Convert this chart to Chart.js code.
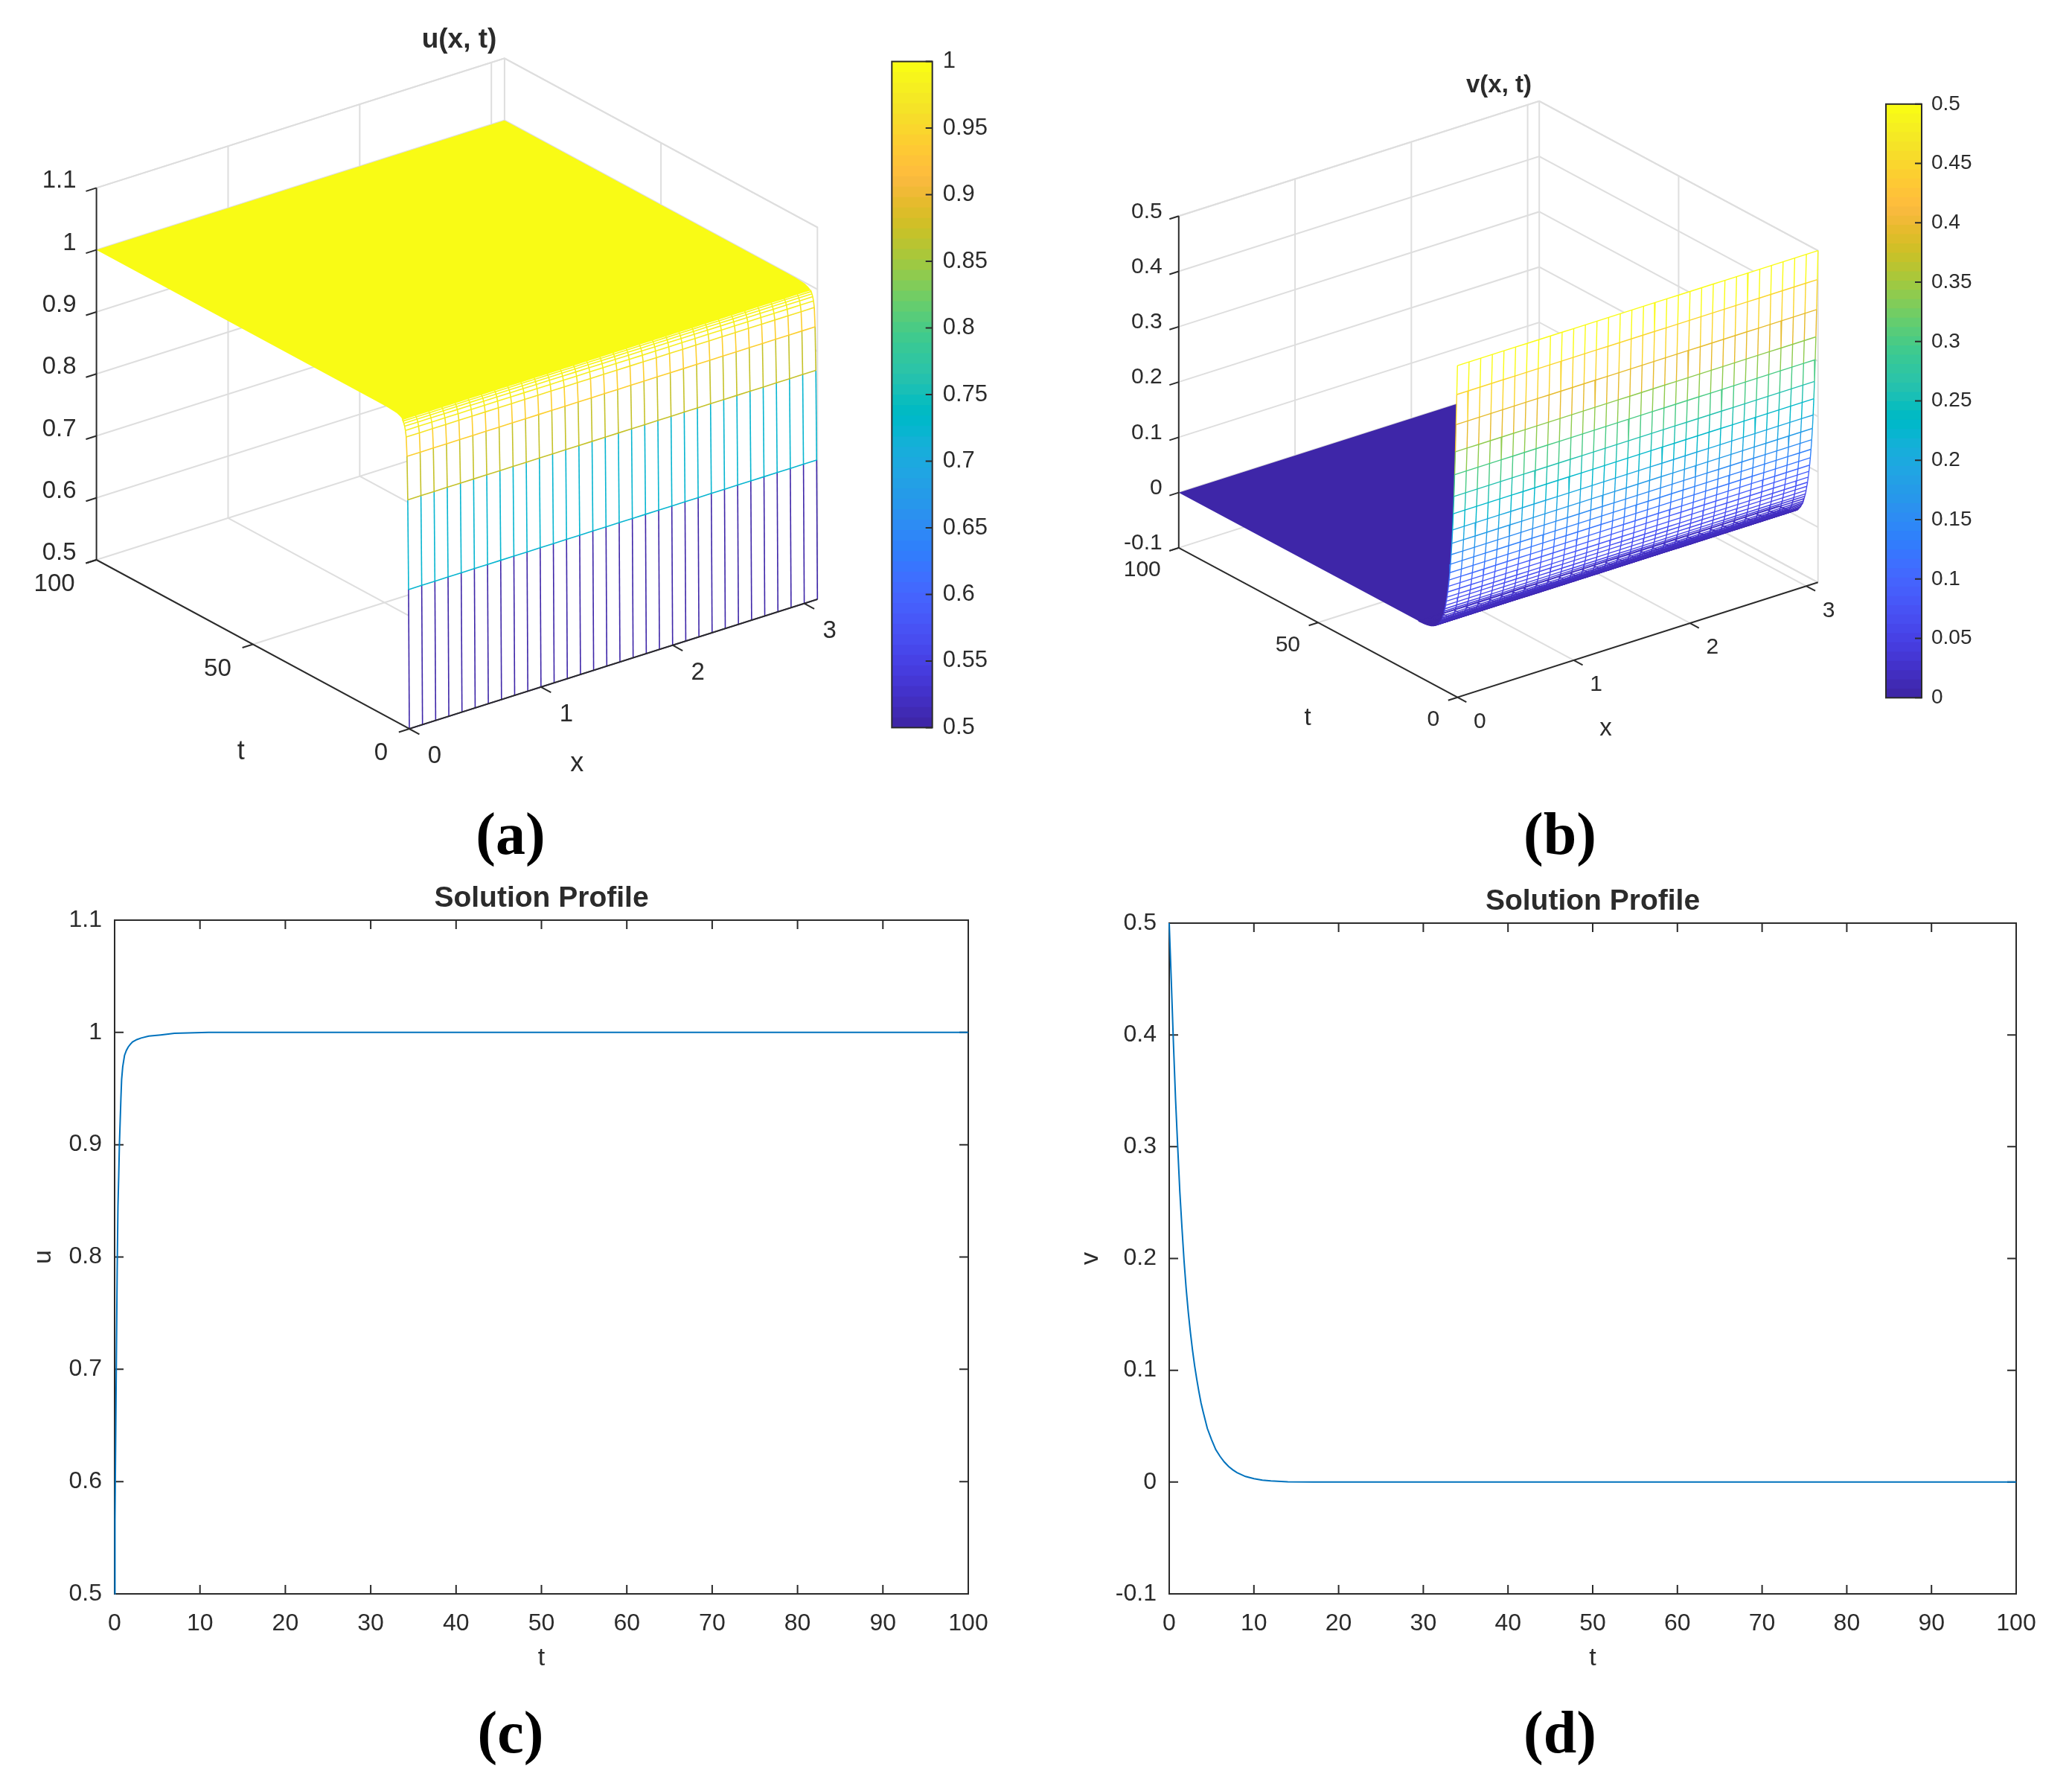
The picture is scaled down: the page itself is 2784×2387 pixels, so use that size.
<!DOCTYPE html>
<html>
<head>
<meta charset="utf-8">
<title>Solution profiles</title>
<script src="https://cdn.jsdelivr.net/npm/chart.js@4/dist/chart.umd.min.js"></script>
<style>
  html, body { margin: 0; background: #fff; }
  #page { position: relative; width: 2784px; height: 2387px; overflow: hidden; background: #fff; }
  canvas { position: absolute; }
  .tag { position: absolute; transform: translate(-50%, -50%); font: bold 80px "Liberation Serif", serif; color: #000; white-space: nowrap; }
</style>
</head>
<body>
<div id="page">
  <canvas id="surfU"></canvas>
  <canvas id="barU"></canvas>
  <canvas id="surfV"></canvas>
  <canvas id="barV"></canvas>
  <canvas id="lineU"></canvas>
  <canvas id="lineV"></canvas>
  <div class="tag" style="left:686px;top:1120px">(a)</div>
  <div class="tag" style="left:2096px;top:1120px">(b)</div>
  <div class="tag" style="left:686px;top:2327px">(c)</div>
  <div class="tag" style="left:2096px;top:2327px">(d)</div>
</div>
<script>
// mesh grid, same x for both surfaces
const xGrid = [0, 0.1, 0.2, 0.3, 0.4, 0.5, 0.6, 0.7, 0.8, 0.9, 1, 1.1, 1.2, 1.3, 1.4, 1.5, 1.6, 1.7, 1.8, 1.9, 2, 2.1, 2.2, 2.3, 2.4, 2.5, 2.6, 2.7, 2.8, 2.9, 3, 3.1];

// u(x,t) mesh rows
const uRowT = [0, 0.25, 0.5, 0.75, 1, 1.25, 1.5, 1.75, 2, 2.25];
const uRowZ = [0.5, 0.724, 0.868, 0.9375, 0.968, 0.978, 0.984, 0.988, 0.991, 0.993];
const uFlatT = [2.25, 2.5, 3, 4, 5, 7, 10, 100];
const uFlatZ = [0.993, 0.9945, 0.9963, 0.9984, 0.999, 0.9996, 1, 1];

// v(x,t) mesh rows
const vRowT = [0, 0.25, 0.5, 0.75, 1, 1.25, 1.5, 1.75, 2, 2.25, 2.5, 2.75, 3, 3.25, 3.5, 3.75, 4, 4.25, 4.5, 4.75, 5, 5.25, 5.5, 5.75, 6, 6.25, 6.5, 6.75, 7, 7.25, 7.5, 7.75, 8, 8.5, 9, 9.5, 10, 10.5, 11, 12, 14];
const vRowZ = [0.5, 0.447, 0.392, 0.342, 0.3, 0.26, 0.228, 0.198, 0.173, 0.152, 0.134, 0.118, 0.104, 0.092, 0.081, 0.071, 0.063, 0.055, 0.048, 0.043, 0.038, 0.033, 0.029, 0.026, 0.023, 0.02, 0.018, 0.016, 0.014, 0.012, 0.011, 0.0095, 0.0085, 0.0065, 0.005, 0.0039, 0.003, 0.0023, 0.0017, 0.001, 0.0003];
const vFlatT = [8, 9, 10, 12, 14, 100];
const vFlatZ = [0.0085, 0.005, 0.003, 0.001, 0.0003, 0];

// curves of panels (c) and (d)
const uCurveT = [0, 0.04, 0.13, 0.22, 0.3, 0.39, 0.48, 0.56, 0.65, 0.74, 0.82, 0.95, 1.16, 1.38, 1.59, 1.85, 2.1, 2.6, 3.1, 4, 5.4, 7, 11, 20, 100];
const uCurve = [0.5, 0.566, 0.644, 0.722, 0.788, 0.845, 0.872, 0.9, 0.921, 0.942, 0.958, 0.9695, 0.9795, 0.984, 0.987, 0.9895, 0.9916, 0.9936, 0.995, 0.9967, 0.9978, 0.9993, 1, 1, 1];
const vCurveT = [0, 0.25, 0.5, 0.75, 1, 1.25, 1.5, 1.75, 2, 2.25, 2.5, 2.75, 3, 3.25, 3.5, 3.75, 4, 4.5, 5, 5.5, 6, 6.5, 7, 7.5, 8, 9, 10, 11, 12, 14, 17, 100];
const vCurve = [0.5, 0.447, 0.392, 0.342, 0.3, 0.26, 0.228, 0.198, 0.173, 0.152, 0.134, 0.118, 0.104, 0.092, 0.081, 0.071, 0.063, 0.048, 0.038, 0.029, 0.023, 0.018, 0.014, 0.011, 0.0085, 0.005, 0.003, 0.0017, 0.001, 0.0003, 0, 0];

// tick labels
const tTicks = [0, 10, 20, 30, 40, 50, 60, 70, 80, 90, 100];
const uTicks = [0.5, 0.6, 0.7, 0.8, 0.9, 1, 1.1];
const vTicks = [-0.1, 0, 0.1, 0.2, 0.3, 0.4, 0.5];
const xTicks3d = [0, 1, 2, 3];
const tTicks3d = [0, 50, 100];
const uBarTicks = [0.5, 0.55, 0.6, 0.65, 0.7, 0.75, 0.8, 0.85, 0.9, 0.95, 1];
const vBarTicks = [0, 0.05, 0.1, 0.15, 0.2, 0.25, 0.3, 0.35, 0.4, 0.45, 0.5];

const parula = [
  [0.2422,0.1504,0.6603],[0.2504,0.1650,0.7076],[0.2578,0.1818,0.7511],[0.2647,0.1978,0.7952],
  [0.2706,0.2147,0.8364],[0.2751,0.2342,0.8710],[0.2783,0.2559,0.8991],[0.2803,0.2782,0.9221],
  [0.2813,0.3006,0.9414],[0.2810,0.3228,0.9579],[0.2795,0.3447,0.9717],[0.2760,0.3667,0.9829],
  [0.2699,0.3892,0.9906],[0.2602,0.4123,0.9952],[0.2440,0.4358,0.9988],[0.2206,0.4603,0.9973],
  [0.1963,0.4847,0.9892],[0.1834,0.5074,0.9798],[0.1786,0.5289,0.9682],[0.1764,0.5499,0.9520],
  [0.1687,0.5703,0.9359],[0.1540,0.5902,0.9218],[0.1460,0.6091,0.9079],[0.1380,0.6276,0.8973],
  [0.1248,0.6459,0.8883],[0.1113,0.6635,0.8763],[0.0952,0.6798,0.8598],[0.0689,0.6948,0.8394],
  [0.0297,0.7082,0.8163],[0.0036,0.7203,0.7917],[0.0067,0.7312,0.7660],[0.0433,0.7411,0.7394],
  [0.0964,0.7500,0.7120],[0.1408,0.7584,0.6842],[0.1717,0.7670,0.6554],[0.1938,0.7758,0.6251],
  [0.2161,0.7843,0.5923],[0.2470,0.7918,0.5567],[0.2906,0.7973,0.5188],[0.3406,0.8008,0.4789],
  [0.3909,0.8029,0.4354],[0.4456,0.8024,0.3909],[0.5044,0.7993,0.3480],[0.5616,0.7942,0.3045],
  [0.6174,0.7876,0.2612],[0.6720,0.7793,0.2227],[0.7242,0.7698,0.1910],[0.7738,0.7598,0.1646],
  [0.8203,0.7498,0.1535],[0.8634,0.7406,0.1596],[0.9035,0.7330,0.1774],[0.9393,0.7288,0.2100],
  [0.9728,0.7298,0.2394],[0.9956,0.7434,0.2371],[0.9970,0.7659,0.2199],[0.9952,0.7893,0.2028],
  [0.9892,0.8136,0.1885],[0.9786,0.8386,0.1766],[0.9676,0.8639,0.1643],[0.9610,0.8890,0.1537],
  [0.9597,0.9135,0.1423],[0.9628,0.9373,0.1265],[0.9691,0.9606,0.1064],[0.9769,0.9839,0.0805]
].map(c => `rgb(${c.map(v => Math.round(v * 255)).join(",")})`);

const FONT = '"Liberation Sans", Arial, sans-serif';
const INK = "#2b2b2b";
const GRID = "#dedede";

function place(id, left, top, w, h) {
  const c = document.getElementById(id);
  c.width = w; c.height = h;
  c.style.left = left + "px"; c.style.top = top + "px";
  c.style.width = w + "px"; c.style.height = h + "px";
  return c;
}

function colorOf(val, lo, hi) {
  const i = Math.floor((val - lo) / (hi - lo) * 64);
  return parula[Math.max(0, Math.min(63, i))];
}

// box plus inward ticks, matlab style
function frame(when, allSides, len, width) {
  return {
    id: "frame",
    [when](chart) {
      const { ctx, chartArea: a, scales } = chart;
      ctx.save();
      ctx.strokeStyle = INK;
      ctx.lineWidth = width;
      ctx.strokeRect(a.left, a.top, a.right - a.left, a.bottom - a.top);
      ctx.beginPath();
      scales.y.ticks.forEach(tk => {
        const p = scales.y.getPixelForValue(tk.value);
        if (allSides) { ctx.moveTo(a.left, p); ctx.lineTo(a.left + len, p); }
        ctx.moveTo(a.right, p); ctx.lineTo(a.right - len, p);
      });
      if (allSides) {
        scales.x.ticks.forEach(tk => {
          const p = scales.x.getPixelForValue(tk.value);
          ctx.moveTo(p, a.bottom); ctx.lineTo(p, a.bottom - len);
          ctx.moveTo(p, a.top); ctx.lineTo(p, a.top + len);
        });
      }
      ctx.stroke();
      ctx.restore();
    }
  };
}

function surface(id, box, view, mesh) {
  const c = place(id, box.left, box.top, box.w, box.h);
  const P = (x, t, z) => ({
    x: view.o[0] + x / view.xMax * view.ex[0] + t / 100 * view.et[0],
    y: view.o[1] + x / view.xMax * view.ex[1] + t / 100 * view.et[1] + (z - view.zMin) / (view.zMax - view.zMin) * view.ez
  });
  const xMax = view.xMax, zMin = view.zMin, zMax = view.zMax;
  const layers = [];
  const line = (pts, color, w) => layers.push({ data: pts, borderColor: color, borderWidth: w, fill: false });
  const poly = (pts, color) => layers.push({ data: pts, borderWidth: 0, borderColor: color, backgroundColor: color, fill: "shape" });

  // back walls and floor grid
  view.zTicks.forEach(z => line([P(0, 100, z), P(xMax, 100, z), P(xMax, 0, z)], GRID, 2));
  xTicks3d.slice(1).forEach(x => {
    line([P(x, 0, zMin), P(x, 100, zMin), P(x, 100, zMax)], GRID, 2);
  });
  line([P(0, 50, zMin), P(xMax, 50, zMin), P(xMax, 50, zMax)], GRID, 2);
  line([P(0, 100, zMax), P(xMax, 100, zMax), P(xMax, 0, zMax), P(xMax, 0, zMin)], GRID, 2);
  line([P(xMax, 100, zMin), P(xMax, 100, zMax)], GRID, 2);
  line([P(xMax, 0, zMin), P(xMax, 100, zMin)], GRID, 2);

  // flat part far away reads as a solid sheet, the mesh is opaque white in front of it
  const edge = (ts, zs, x) => ts.map((t, i) => P(x, t, zs[i]));
  const rev = a => a.slice().reverse();
  poly(edge(mesh.flatT, mesh.flatZ, 0).concat(rev(edge(mesh.flatT, mesh.flatZ, xMax))), parula[mesh.flatColor]);
  const n = mesh.sheetRows;
  const st = mesh.rowT.slice(0, n), sz = mesh.rowZ.slice(0, n);
  poly(edge(st, sz, 0).concat(rev(edge(st, sz, xMax))), "#ffffff");

  const rowColors = mesh.rowZ.map(z => colorOf(z, mesh.lo, mesh.hi));
  xGrid.forEach(x => layers.push({
    data: edge(mesh.rowT, mesh.rowZ, x),
    borderWidth: view.meshWidth,
    fill: false,
    segment: { borderColor: ctx => rowColors[ctx.p0DataIndex] }
  }));
  rev(mesh.rowT.map((t, i) => i)).forEach(i => {
    line(xGrid.map(x => P(x, mesh.rowT[i], mesh.rowZ[i])), rowColors[i], view.meshWidth);
  });

  // dark axes and their ticks go in front
  line([P(0, 100, zMin), P(0, 100, zMax)], INK, 2);
  line([P(0, 100, zMin), P(0, 0, zMin), P(xMax, 0, zMin)], INK, 2);
  view.zTicks.forEach(z => line([P(0, 100, z), P(-view.tickX, 100, z)], INK, 2));
  tTicks3d.forEach(t => line([P(0, t, zMin), P(-view.tickX, t, zMin)], INK, 2));
  xTicks3d.forEach(x => line([P(x, 0, zMin), P(x, -view.tickT, zMin)], INK, 2));

  const texts = [];
  const add = (pt, dx, dy, text, align, font) => texts.push({ x: pt.x + dx, y: pt.y + dy, text, align, font });
  const tickFont = `${view.fontSize}px ${FONT}`;
  const nameFont = `${view.nameSize}px ${FONT}`;
  xTicks3d.forEach(x => add(P(x, 0, zMin), view.xLab[0], view.xLab[1], String(x), "center", tickFont));
  tTicks3d.forEach(t => add(P(0, t, zMin), view.tLab[0], view.tLab[1], String(t), "right", tickFont));
  view.zTicks.forEach(z => add(P(0, 100, z), view.zLab[0], view.zLab[1], String(z), "right", tickFont));
  add(P(xMax / 2, 0, zMin), view.xTitle[0], view.xTitle[1], "x", "center", nameFont);
  add(P(0, 50, zMin), view.tTitle[0], view.tTitle[1], "t", "center", nameFont);
  texts.push({ x: view.title[0], y: view.title[1], text: view.titleText, align: "center", font: `bold ${view.titleSize}px ${FONT}` });

  const datasets = layers.reverse().map(d => Object.assign({ showLine: true, pointRadius: 0, clip: false, tension: 0 }, d));

  return new Chart(c, {
    type: "scatter",
    data: { datasets },
    options: {
      responsive: false, animation: false, devicePixelRatio: 1, events: [],
      layout: { padding: 0 },
      plugins: { legend: { display: false }, tooltip: { enabled: false } },
      scales: {
        x: { type: "linear", display: false, min: box.left, max: box.left + box.w },
        y: { type: "linear", display: false, min: box.top, max: box.top + box.h, reverse: true }
      }
    },
    plugins: [{
      id: "words",
      afterDraw(chart) {
        const { ctx, scales } = chart;
        ctx.save();
        ctx.fillStyle = INK;
        ctx.textBaseline = "middle";
        texts.forEach(t => {
          ctx.font = t.font;
          ctx.textAlign = t.align;
          ctx.fillText(t.text, scales.x.getPixelForValue(t.x), scales.y.getPixelForValue(t.y));
        });
        ctx.restore();
      }
    }]
  });
}

function colorbar(id, box, plot, lo, hi, ticks, fontSize, pad) {
  const c = place(id, box.left, box.top, box.w, box.h);
  const step = (hi - lo) / 64;
  const datasets = parula.map((col, i) => ({
    data: [[lo + i * step, lo + (i + 1) * step + (i < 63 ? step * 0.1 : 0)]],
    backgroundColor: col, borderWidth: 0, grouped: false,
    barPercentage: 1, categoryPercentage: 1
  }));
  return new Chart(c, {
    type: "bar",
    data: { labels: [""], datasets: datasets.reverse() },
    options: {
      responsive: false, animation: false, devicePixelRatio: 1, events: [],
      layout: { padding: { left: plot.left - box.left, top: plot.top - box.top, bottom: box.top + box.h - plot.bottom, right: 0 } },
      plugins: { legend: { display: false }, tooltip: { enabled: false } },
      scales: {
        x: { display: false, stacked: false },
        y: {
          position: "right", min: lo, max: hi,
          grid: { display: false, drawTicks: false }, border: { display: false },
          afterFit: s => { s.width = box.left + box.w - plot.right; },
          afterBuildTicks: s => { s.ticks = ticks.map(value => ({ value })); },
          ticks: { autoSkip: false, padding: pad, color: INK, font: { family: FONT, size: fontSize }, callback: v => String(+v.toFixed(2)) }
        }
      }
    },
    plugins: [frame("afterDatasetsDraw", false, 9, 2)]
  });
}

function profile(id, box, plot, ts, ys, yTicks, yMin, yMax, yName, yNamePad, titleY) {
  const c = place(id, box.left, box.top, box.w, box.h);
  const axisFont = { family: FONT, size: 32 };
  const nameFont = { family: FONT, size: 34 };
  return new Chart(c, {
    type: "scatter",
    data: { datasets: [{ data: ts.map((t, i) => ({ x: t, y: ys[i] })), showLine: true, pointRadius: 0, borderColor: "#0072BD", borderWidth: 2, clip: 4, tension: 0 }] },
    options: {
      responsive: false, animation: false, devicePixelRatio: 1, events: [],
      layout: { padding: { right: box.left + box.w - plot.right, top: 0, left: 0, bottom: 0 } },
      plugins: {
        legend: { display: false }, tooltip: { enabled: false },
        title: {
          display: true, text: "Solution Profile", color: INK, fullSize: false,
          font: { family: FONT, size: 39, weight: "bold", lineHeight: 1.2 },
          padding: { top: titleY - box.top - 23.4, bottom: plot.top - titleY - 23.4 }
        }
      },
      scales: {
        x: {
          type: "linear", min: 0, max: 100,
          grid: { display: false, drawTicks: false }, border: { display: false },
          afterFit: s => { s.height = box.top + box.h - plot.bottom; },
          afterBuildTicks: s => { s.ticks = tTicks.map(value => ({ value })); },
          ticks: { autoSkip: false, maxRotation: 0, padding: 21, color: INK, font: axisFont, callback: v => String(v) },
          title: { display: true, text: "t", color: INK, font: nameFont, padding: { top: 0, bottom: 42 } }
        },
        y: {
          type: "linear", min: yMin, max: yMax,
          grid: { display: false, drawTicks: false }, border: { display: false },
          afterFit: s => { s.width = plot.left - box.left; },
          afterBuildTicks: s => { s.ticks = yTicks.map(value => ({ value })); },
          ticks: { autoSkip: false, padding: 17, color: INK, font: axisFont, callback: v => String(+v.toFixed(2)) },
          title: { display: true, text: yName, color: INK, font: nameFont, padding: { top: yNamePad, bottom: 0 } }
        }
      }
    },
    plugins: [frame("beforeDatasetsDraw", true, 12, 2)]
  });
}

surface("surfU", { left: 0, top: 0, w: 1190, h: 1090 }, {
  o: [550, 979], ex: [548.3, -174], et: [-420.4, -227], ez: -499.6,
  xMax: 3.1, zMin: 0.5, zMax: 1.1, zTicks: uTicks,
  tickX: 0.08, tickT: 3.2, meshWidth: 1.6, fontSize: 33, nameSize: 36, titleSize: 37,
  xLab: [34, 37], tLab: [-29, 33], zLab: [-27, -9], xTitle: [-49, 134], tTitle: [-16, 145],
  title: [617, 54], titleText: "u(x, t)"
}, { rowT: uRowT, rowZ: uRowZ, flatT: uFlatT, flatZ: uFlatZ, flatColor: 63, sheetRows: uRowT.length, lo: 0.5, hi: 1 });

surface("surfV", { left: 1420, top: 60, w: 1100, h: 1000 }, {
  o: [1958.3, 936.7], ex: [484.4, -154.4], et: [-374.5, -200.8], ez: -445.6,
  xMax: 3.1, zMin: -0.1, zMax: 0.5, zTicks: vTicks,
  tickX: 0.08, tickT: 3.2, meshWidth: 1.4, fontSize: 30, nameSize: 33, titleSize: 33,
  xLab: [30, 33], tLab: [-24, 30], zLab: [-22, -6], xTitle: [-43, 119], tTitle: [-14, 129],
  title: [2014, 115], titleText: "v(x, t)"
}, { rowT: vRowT, rowZ: vRowZ, flatT: vFlatT, flatZ: vFlatZ, flatColor: 0, sheetRows: 33, lo: 0, hi: 0.5 });

colorbar("barU", { left: 1190, top: 50, w: 190, h: 960 }, { left: 1198.3, right: 1252.7, top: 79.5, bottom: 979.3 }, 0.5, 1, uBarTicks, 31, 14);
colorbar("barV", { left: 2525, top: 110, w: 180, h: 860 }, { left: 2534, right: 2582, top: 137.3, bottom: 937.3 }, 0, 0.5, vBarTicks, 28, 13);

profile("lineU", { left: 0, top: 1150, w: 1400, h: 1140 }, { left: 154, right: 1301, top: 1236, bottom: 2141 }, uCurveT, uCurve, uTicks, 0.5, 1.1, "u", 38, 1207);
profile("lineV", { left: 1420, top: 1150, w: 1364, h: 1140 }, { left: 1571, right: 2709, top: 1240, bottom: 2141 }, vCurveT, vCurve, vTicks, -0.1, 0.5, "v", 25, 1211);
</script>
</body>
</html>
